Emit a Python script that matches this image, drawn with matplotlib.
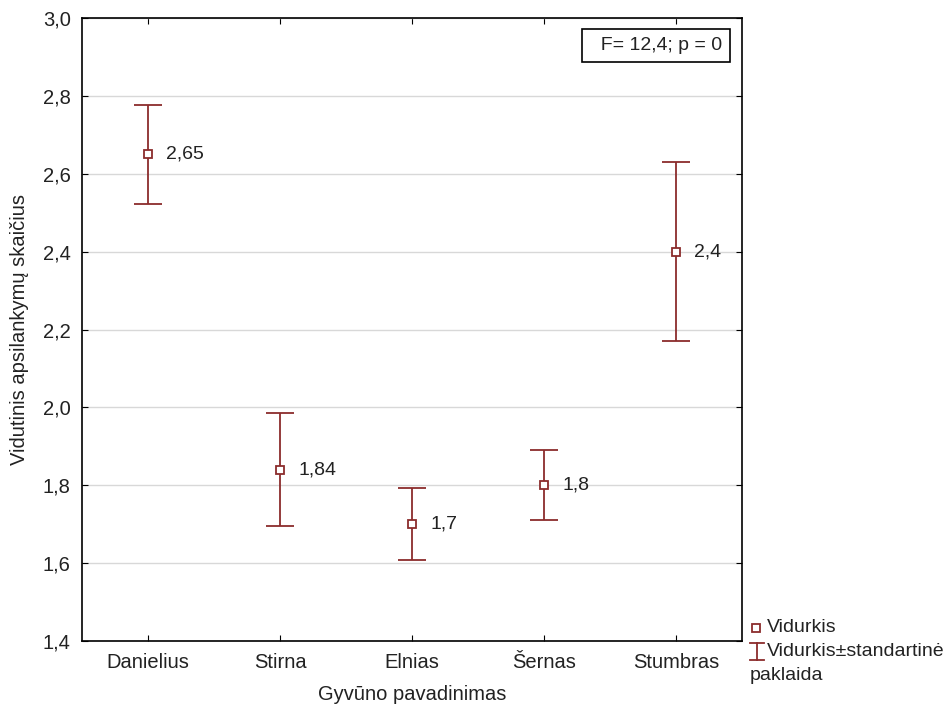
import matplotlib.pyplot as plt
from matplotlib.lines import Line2D
from matplotlib.ticker import FuncFormatter, MultipleLocator

plt.rcParams['font.family'] = ['Liberation Sans', 'DejaVu Sans']

animals = ['Danielius', 'Stirna', 'Elnias', 'Šernas', 'Stumbras']
means = [2.65, 1.84, 1.70, 1.80, 2.40]
std_err = [0.127, 0.145, 0.092, 0.09, 0.23]
mean_labels = ['2,65', '1,84', '1,7', '1,8', '2,4']

col = '#8b2c2c'
txt = '#222222'

fig = plt.figure(figsize=(9.51, 7.1), dpi=100)
ax = fig.add_axes([0.0862, 0.0972, 0.694, 0.8774])

x = list(range(len(animals)))
ax.errorbar(x, means, yerr=std_err, fmt='none', ecolor=col, elinewidth=1.3,
            capsize=10, capthick=1.3)
ax.plot(x, means, 's', ms=6, mfc='white', mec=col, mew=1.3)

for xi, m, lab in zip(x, means, mean_labels):
    ax.annotate(lab, (xi, m), xytext=(13, 0), textcoords='offset points',
                va='center', ha='left', fontsize=14, color=txt)

ax.set_xlim(-0.5, 4.5)
ax.set_ylim(1.4, 3.0)
ax.yaxis.set_major_locator(MultipleLocator(0.2))
ax.yaxis.set_major_formatter(FuncFormatter(lambda v, p: ('%.1f' % v).replace('.', ',')))
ax.set_xticks(x)
ax.set_xticklabels(animals)
ax.tick_params(direction='in', top=True, right=True, labelsize=14.5, length=4,
               labelcolor=txt)
ax.tick_params(axis='x', pad=9)
ax.tick_params(axis='y', pad=8)
ax.grid(axis='y', color='#d8d8d8', lw=1)
ax.set_axisbelow(True)
for s in ax.spines.values():
    s.set_linewidth(1.2)

ax.set_xlabel('Gyvūno pavadinimas', fontsize=14.5, labelpad=9, color=txt)
ax.set_ylabel('Vidutinis apsilankymų skaičius', fontsize=14.5, labelpad=10, color=txt)

ax.text(0.970, 0.970, '  F= 12,4; p = 0', transform=ax.transAxes, ha='right', va='top',
        fontsize=14, color=txt,
        bbox=dict(boxstyle='square,pad=0.4', fc='white', ec='black', lw=1.2))

# legend drawn by hand below the plot area, right side
def fx(px):
    return px / 951.0

def fy(py):
    return 1 - py / 710.0

fig.add_artist(Line2D([fx(756)], [fy(628)], marker='s', ms=6, mfc='white',
                      mec=col, mew=1.3, ls=''))
fig.add_artist(Line2D([fx(757), fx(757)], [fy(643), fy(660)], color=col, lw=1.3))
fig.add_artist(Line2D([fx(750), fx(764)], [fy(643), fy(643)], color=col, lw=1.3))
fig.add_artist(Line2D([fx(750), fx(764)], [fy(660), fy(660)], color=col, lw=1.3))
fig.text(fx(767), fy(628), 'Vidurkis', fontsize=14, va='center', ha='left', color=txt)
fig.text(fx(767), fy(651), 'Vidurkis±standartinė', fontsize=14, va='center', ha='left',
         color=txt)
fig.text(fx(750), fy(675), 'paklaida', fontsize=14, va='center', ha='left', color=txt)

fig.savefig('out.png', dpi=100)
